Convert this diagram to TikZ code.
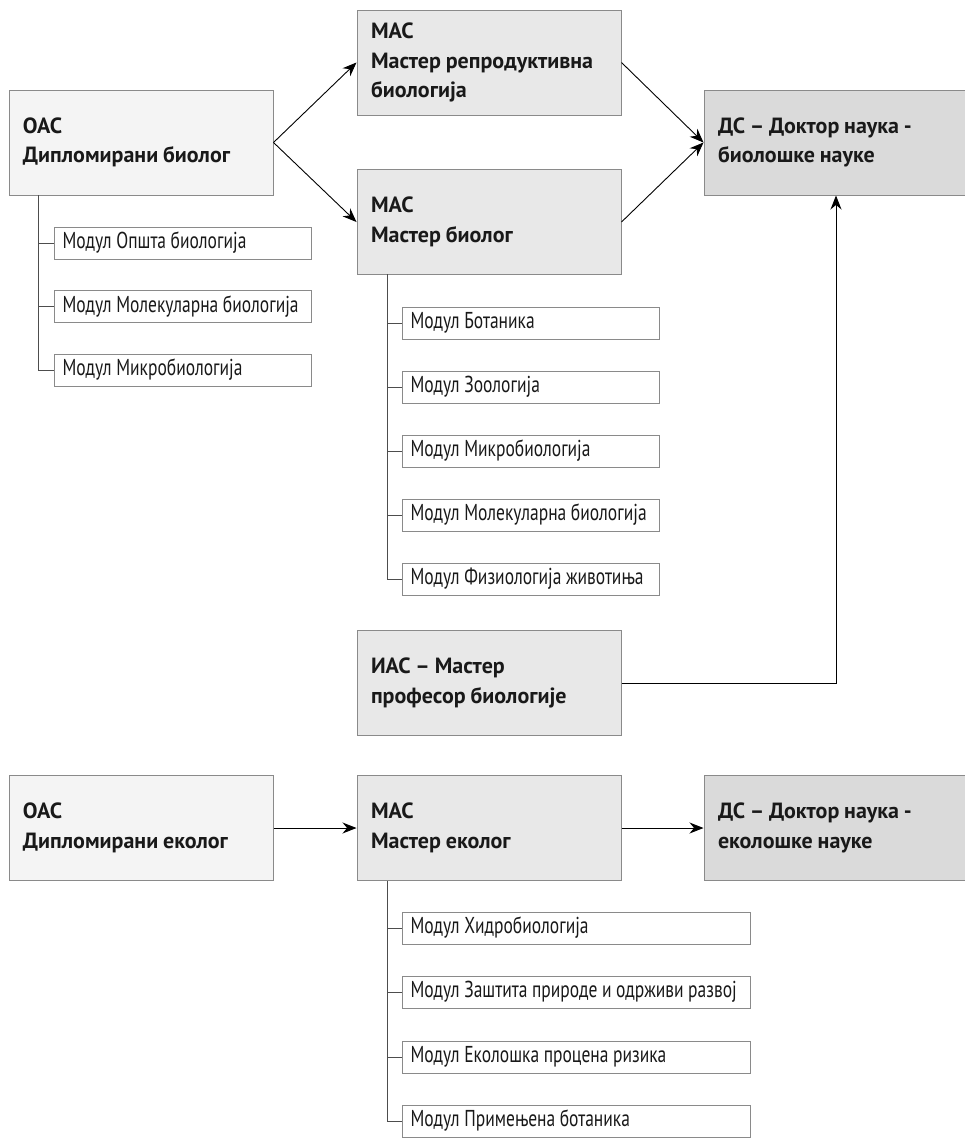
\documentclass[tikz,border=0pt]{standalone}
\usepackage{fontspec}
\setmainfont{PT Sans}
\newfontfamily\titlefont{PT Sans}
\newfontfamily\modfont[FakeStretch=0.76]{PT Sans}
\usetikzlibrary{arrows.meta}

% fonts of the boxes, with tighter word spaces
\newcommand\boxfont{\titlefont\fontsize{22}{29.5}\selectfont\bfseries\setlength{\spaceskip}{0.22em plus 0.05em}}
\newcommand\modulefont{\modfont\fontsize{23}{24}\selectfont\setlength{\spaceskip}{0.2em plus 0.05em}}

\definecolor{boxline}{HTML}{8A8A8A}
\definecolor{oasfill}{HTML}{F4F4F4}
\definecolor{masfill}{HTML}{E8E8E8}
\definecolor{dsfill}{HTML}{DADADA}
\definecolor{treeline}{HTML}{4D4D4D}

\tikzset{
  bigbox/.style={draw=boxline, line width=1pt, minimum width=264pt, minimum height=105pt,
    text width=236pt, inner xsep=14pt, align=flush left, font=\boxfont, text=black!90},
  oasbox/.style={bigbox, fill=oasfill},
  masbox/.style={bigbox, fill=masfill},
  dsbox/.style={bigbox, fill=dsfill},
  modbox/.style={draw=boxline, line width=1pt, fill=white, anchor=west, minimum height=32pt,
    text width=#1, inner xsep=8pt, inner ysep=0pt, align=flush left, font=\modulefont,
    text=black!90},
  modbox/.default=241pt,
  arr/.style={-{Stealth[length=14pt,width=11pt]}, line width=0.9pt, black},
  tree/.style={draw=treeline, line width=1pt}
}

\begin{document}
\begin{tikzpicture}[x=1pt, y=-1pt]

\useasboundingbox (0,0) rectangle (965,1138);

% Biology: main boxes
\node[oasbox] (oacb) at (141,142.5) {ОАС\\Дипломирани биолог};
\node[masbox] (masr) at (489,62.5) {МАС\\Мастер репродуктивна\\биологија};
\node[masbox] (masb) at (489,222) {МАС\\Мастер биолог};
\node[dsbox] (dsb) at (836,142.5) {ДС – Доктор наука -\\биолошке науке};
\node[masbox] (ias) at (489,683) {ИАС – Мастер\\професор биологије};

% Biology: modules of ОАС
\node[modbox] (mob1) at (54,243) {Модул Општа биологија};
\node[modbox] (mob2) at (54,306.5) {Модул Молекуларна биологија};
\node[modbox] (mob3) at (54,370) {Модул Микробиологија};

% Biology: modules of МАС
\node[modbox] (mmb1) at (402,323) {Модул Ботаника};
\node[modbox] (mmb2) at (402,387) {Модул Зоологија};
\node[modbox] (mmb3) at (402,451) {Модул Микробиологија};
\node[modbox] (mmb4) at (402,515) {Модул Молекуларна биологија};
\node[modbox] (mmb5) at (402,579) {Модул Физиологија животиња};

% Ecology: main boxes
\node[oasbox] (oace) at (141,828) {ОАС\\Дипломирани еколог};
\node[masbox] (mase) at (489,828) {МАС\\Мастер еколог};
\node[dsbox] (dse) at (836,828) {ДС – Доктор наука -\\еколошке науке};

% Ecology: modules of МАС
\node[modbox=332pt] (mme1) at (402,928) {Модул Хидробиологија};
\node[modbox=332pt] (mme2) at (402,992) {Модул Заштита природе и одрживи развој};
\node[modbox=332pt] (mme3) at (402,1057) {Модул Еколошка процена ризика};
\node[modbox=332pt] (mme4) at (402,1121) {Модул Примењена ботаника};

% Tree lines
\coordinate (tb) at (38,195);
\coordinate (tm) at (387,274);
\coordinate (te) at (387,881);
\foreach \m in {mob1,mob2,mob3}
  \draw[tree] (tb) |- (\m.west);
\foreach \m in {mmb1,mmb2,mmb3,mmb4,mmb5}
  \draw[tree] (tm) |- (\m.west);
\foreach \m in {mme1,mme2,mme3,mme4}
  \draw[tree] (te) |- (\m.west);

% Arrows
\draw[arr] (oacb.east) -- (masr.west);
\draw[arr] (oacb.east) -- (masb.west);
\draw[arr] (masr.east) -- (dsb.west);
\draw[arr] (masb.east) -- (dsb.west);
\draw[arr] (ias.east) -| (dsb.south);
\draw[arr] (oace.east) -- (mase.west);
\draw[arr] (mase.east) -- (dse.west);

\end{tikzpicture}
\end{document}
